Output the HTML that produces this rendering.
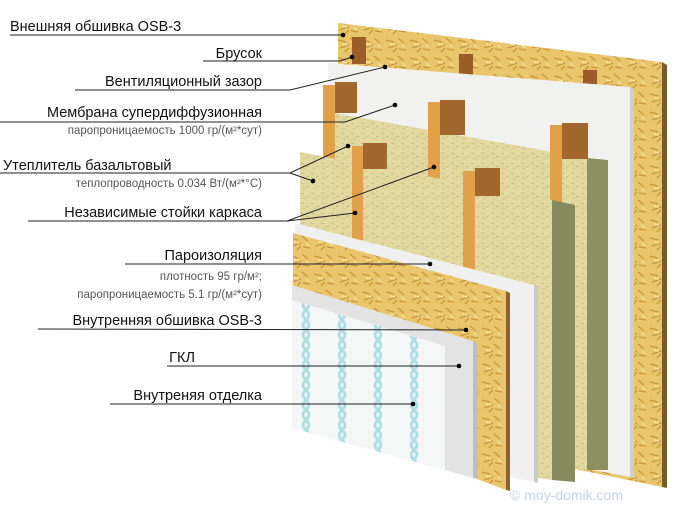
<!DOCTYPE html>
<html><head><meta charset="utf-8"><style>
html,body{margin:0;padding:0;background:#fff;}
svg{display:block;}
text{font-family:"Liberation Sans",sans-serif;}
.t{font-size:14.5px;fill:#111;}
.s{font-size:11.5px;fill:#555;}
.l{stroke:#222;stroke-width:1;fill:none;}
</style></head><body>
<svg width="680" height="510" viewBox="0 0 680 510" xmlns="http://www.w3.org/2000/svg">
<defs>
<pattern id="osb" width="24" height="18" patternUnits="userSpaceOnUse">
<rect width="24" height="18" fill="#e9c56c"/>
<path d="M2 4l8 2M14 2l6 5M4 12l9-3M15 13l7 1M9 16l4-4" stroke="#c9953a" stroke-width="1.3"/>
<path d="M6 8l5 1M18 9l3 3" stroke="#f6e2a0" stroke-width="1.5"/>
</pattern>
<pattern id="ins" width="10" height="10" patternUnits="userSpaceOnUse">
<rect width="10" height="10" fill="#e2d9a0"/>
<path d="M1 3l3 1M6 7l3-1M3 8l2 1" stroke="#c8be82" stroke-width="1"/>
</pattern>
<pattern id="dec" width="36" height="40" patternUnits="userSpaceOnUse">
<rect width="36" height="40" fill="#f5f7f7"/>
<path d="M18 0c10 10 -10 10 0 20c10 10 -10 10 0 20M18 0c-10 10 10 10 0 20c-10 10 10 10 0 20" stroke="#aedde4" stroke-width="3" fill="none"/>
</pattern>
</defs>
<!-- outer OSB -->
<polygon points="338,23 662,62 662,487 338,420" fill="url(#osb)"/>
<polygon points="662,62 667,65 667,488 662,487" fill="#7a5a2a"/>
<!-- brusok -->
<rect x="352" y="37" width="14" height="27" fill="#9b5e28"/>
<rect x="459" y="54" width="14" height="28" fill="#9b5e28"/>
<rect x="583" y="70" width="14" height="28" fill="#9b5e28"/>
<!-- membrane -->
<polygon points="328,63 630,87 630,477 328,420" fill="#f1f1ef"/>
<polygon points="630,87 634,89 634,478 630,477" fill="#cfcfcf"/>
<!-- back insulation -->
<polygon points="333,113 587,158 587,470 333,430" fill="url(#ins)"/>
<polygon points="587,158 608,160 608,470 587,470" fill="#8c8f62"/>
<!-- studs row 1 -->
<rect x="323" y="85" width="12" height="80" fill="#e2a048"/>
<rect x="335" y="82" width="22" height="31" fill="#a2672c"/>
<rect x="428" y="102" width="12" height="80" fill="#e2a048"/>
<rect x="440" y="100" width="25" height="35" fill="#a2672c"/>
<rect x="550" y="125" width="12" height="80" fill="#e2a048"/>
<rect x="562" y="123" width="26" height="36" fill="#a2672c"/>
<!-- front insulation -->
<polygon points="300,152 552,200 552,480 300,440" fill="url(#ins)"/>
<polygon points="552,200 575,205 575,482 552,480" fill="#878a5c"/>
<!-- studs row 2 -->
<rect x="352" y="146" width="11" height="95" fill="#e2a048"/>
<rect x="363" y="143" width="24" height="26" fill="#a2672c"/>
<rect x="463" y="171" width="12" height="120" fill="#e2a048"/>
<rect x="475" y="168" width="25" height="28" fill="#a2672c"/>
<!-- vapor barrier -->
<polygon points="295,223 534,285 534,482 295,430" fill="#f0f0f0"/>
<polygon points="534,285 538,287 538,483 534,482" fill="#cacaca"/>
<!-- inner OSB -->
<polygon points="293,233 506,291 506,490 293,440" fill="url(#osb)"/>
<polygon points="506,291 510,293 510,491 506,490" fill="#8a6428"/>
<!-- GKL -->
<polygon points="292,285 473,341 473,478 292,430" fill="#e3e3e3"/>
<polygon points="473,341 477,343 477,479 473,478" fill="#bdbdbd"/>
<!-- decor -->
<polygon points="292,300 445,346 445,470 292,428" fill="url(#dec)"/>
<polygon points="292,428 445,470 477,479 506,490 510,491 292,450" fill="#fff"/>
<text x="510" y="500" font-size="14" fill="#c5d3e3">© moy-domik.com</text>
<!-- labels -->
<text class="t" x="10" y="31">Внешняя обшивка OSB-3</text>
<polyline class="l" points="10,35 343,35"/><circle cx="343" cy="35" r="2.3"/>
<text class="t" x="262" y="58" text-anchor="end">Брусок</text>
<polyline class="l" points="203,61 340,61 352,57"/><circle cx="352" cy="57" r="2.3"/>
<text class="t" x="262" y="86" text-anchor="end">Вентиляционный зазор</text>
<polyline class="l" points="75,90 290,90 385,67"/><circle cx="385" cy="67" r="2.3"/>
<text class="t" x="262" y="117" text-anchor="end">Мембрана супердиффузионная</text>
<polyline class="l" points="0,122 345,122 395,105"/><circle cx="395" cy="105" r="2.3"/>
<text class="s" x="262" y="134" text-anchor="end">паропроницаемость 1000 гр/(м²*сут)</text>
<text class="t" x="3" y="170">Утеплитель базальтовый</text>
<polyline class="l" points="0,173 290,173 348,146"/><polyline class="l" points="290,173 313,181"/>
<circle cx="348" cy="146" r="2.3"/><circle cx="313" cy="181" r="2.3"/>
<text class="s" x="262" y="187" text-anchor="end">теплопроводность 0.034 Вт/(м²*°С)</text>
<text class="t" x="262" y="217" text-anchor="end">Независимые стойки каркаса</text>
<polyline class="l" points="28,221 287,221 434,167"/><polyline class="l" points="287,221 355,213"/>
<circle cx="434" cy="167" r="2.3"/><circle cx="355" cy="213" r="2.3"/>
<text class="t" x="262" y="260" text-anchor="end">Пароизоляция</text>
<polyline class="l" points="125,264 430,264"/><circle cx="430" cy="264" r="2.3"/>
<text class="s" x="262" y="280" text-anchor="end">плотность 95 гр/м²;</text>
<text class="s" x="262" y="298" text-anchor="end">паропроницаемость 5.1 гр/(м²*сут)</text>
<text class="t" x="262" y="325" text-anchor="end">Внутренняя обшивка OSB-3</text>
<polyline class="l" points="38,329 466,330"/><circle cx="466" cy="330" r="2.3"/>
<text class="t" x="195" y="362" text-anchor="end">ГКЛ</text>
<polyline class="l" points="167,366 459,366"/><circle cx="459" cy="366" r="2.3"/>
<text class="t" x="262" y="400" text-anchor="end">Внутреняя отделка</text>
<polyline class="l" points="110,404 413,404"/><circle cx="413" cy="404" r="2.3"/>
</svg>
</body></html>
